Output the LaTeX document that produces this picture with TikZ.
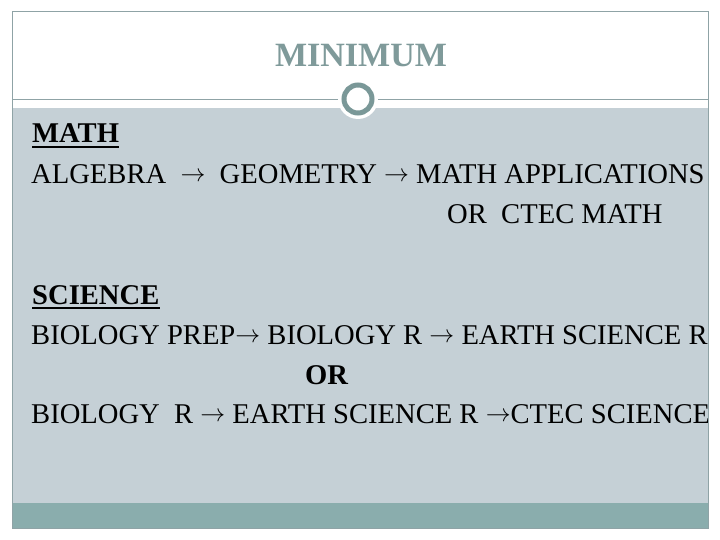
\documentclass[tikz,border=0pt]{standalone}
\usepackage{fontspec}
\setmainfont{Liberation Serif}
\definecolor{panel}{HTML}{C5D0D6}
\definecolor{band}{HTML}{8AADAD}
\definecolor{edge}{HTML}{8FA3A6}
\definecolor{titlec}{HTML}{7F9A9A}
\definecolor{ringc}{HTML}{7A9898}
\newcommand{\arr}{\raisebox{2pt}{$\rightarrow$}}
\begin{document}
\begin{tikzpicture}[x=1pt,y=-1pt,
  body/.style={anchor=base west,inner sep=0pt,font=\fontsize{28.6}{30}\selectfont,text=black},
  head/.style={body,font=\fontsize{28.6}{30}\selectfont\bfseries},
  uline/.style={line width=1.8pt,black}]
\useasboundingbox (0,0) rectangle (720,540);
\fill[white] (0,0) rectangle (720,540);
% panels
\fill[panel] (12,108) rectangle (708,503);
\fill[band] (12,503) rectangle (708,528);
% ring
\fill[white] (358,99) circle (20);
\draw[ringc,line width=5pt] (358,99) circle (14);
% title
\node[anchor=base,inner sep=0pt,text=titlec,font=\fontsize{34}{34}\selectfont\bfseries] (title) at (361,67) {MINIMUM};
% texts
\begin{scope}
\clip (12,12) rectangle (707,528);
\node[head] (math) at (32,143) {MATH};
\draw[uline] ([yshift=-4pt]math.base west) -- ([yshift=-4pt]math.base east);
\node[body] (m1) at (31,184) {ALGEBRA \ \arr\ \ GEOMETRY \arr\ MATH APPLICATIONS};
\node[body] (m2) at (447,223) {OR\ \ CTEC MATH};
\node[head] (sci) at (32,304) {SCIENCE};
\draw[uline] ([yshift=-4pt]sci.base west) -- ([yshift=-4pt]sci.base east);
\node[body] (s1) at (31,344) {BIOLOGY PREP\arr\ BIOLOGY R \arr\ EARTH SCIENCE R};
\node[head] (or) at (305,384) {OR};
\node[body] (s2) at (31,423) {BIOLOGY\ \ R \arr\ EARTH SCIENCE R \arr CTEC SCIENCE};
\end{scope}
\draw[edge,line width=1pt] (12,12) rectangle (708,528);
\draw[edge,line width=1pt] (12,100) -- (338,100) (378,100) -- (708,100);
\end{tikzpicture}
\end{document}
